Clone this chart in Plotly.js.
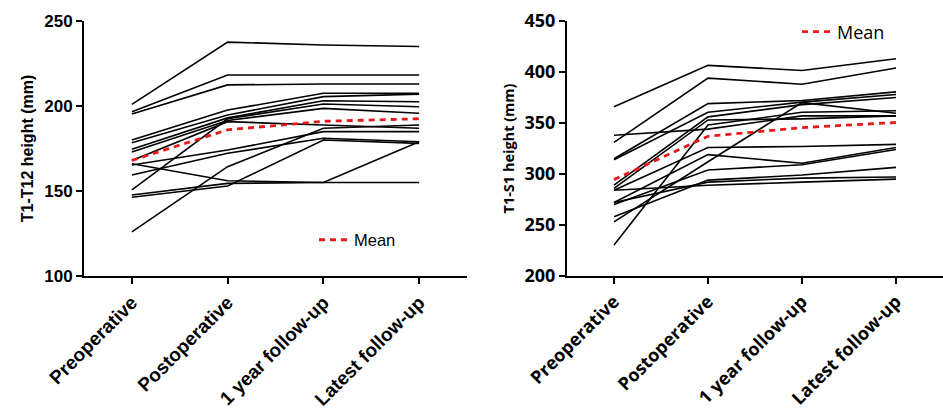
<!DOCTYPE html>
<html>
<head>
<meta charset="utf-8">
<script src="https://cdn.plot.ly/plotly-3.0.1.min.js"></script>
<style>html,body{margin:0;padding:0;background:#fff;}#chart{width:943px;height:410px;}</style>
</head>
<body>
<div id="chart"></div>
<script>
// ---- data ----
const timepoints = ["Preoperative", "Postoperative", "1 year follow-up", "Latest follow-up"];

// T1-T12 height (mm), one array per patient
const t12_p1  = [201, 237.6, 235.9, 235];
const t12_p2  = [196.6, 218.2, 218.2, 218.2];
const t12_p3  = [195.3, 212.4, 212.9, 212.9];
const t12_p4  = [180, 197.6, 207.5, 207.5];
const t12_p5  = [178.4, 194.7, 205.5, 207];
const t12_p6  = [174.5, 193, 203.1, 202.5];
const t12_p7  = [150.6, 192.5, 201.2, 199.6];
const t12_p8  = [173, 191.5, 198.6, 195.7];
const t12_p9  = [168, 190.8, 188.8, 186.9];
const t12_p10 = [165.3, 174.1, 184.9, 184.9];
const t12_p11 = [159.4, 172.2, 181, 179];
const t12_p12 = [126, 164.3, 186.9, 188.8];
const t12_p13 = [166, 156, 155, 179];
const t12_p14 = [147.6, 154.5, 155, 155];
const t12_p15 = [146.3, 152.9, 180, 178];
const t12_mean = [168, 186, 191, 192.5];

// T1-S1 height (mm), one array per patient
const s1_p1  = [366, 406.5, 401.5, 413];
const s1_p2  = [331, 394, 388, 404];
const s1_p3  = [338, 344, 357, 357];
const s1_p4  = [315, 369, 372, 380.5];
const s1_p5  = [314, 360.5, 370.5, 378];
const s1_p6  = [289, 356, 368, 375];
const s1_p7  = [230.5, 348, 360.5, 362];
const s1_p8  = [253, 312, 370, 359.5];
const s1_p9  = [286, 353, 354, 357];
const s1_p10 = [284, 326, 327, 329];
const s1_p11 = [272, 319, 310.5, 326];
const s1_p12 = [270, 304, 309, 324];
const s1_p13 = [258, 294, 299, 306.5];
const s1_p14 = [272, 292, 296, 297];
const s1_p15 = [284, 289, 292, 295];
const s1_mean = [294.5, 337, 345.5, 350.5];

const t12Patients = [t12_p1,t12_p2,t12_p3,t12_p4,t12_p5,t12_p6,t12_p7,t12_p8,t12_p9,t12_p10,t12_p11,t12_p12,t12_p13,t12_p14,t12_p15];
const s1Patients = [s1_p1,s1_p2,s1_p3,s1_p4,s1_p5,s1_p6,s1_p7,s1_p8,s1_p9,s1_p10,s1_p11,s1_p12,s1_p13,s1_p14,s1_p15];

// ---- traces ----
const traces = [];
t12Patients.forEach(v => traces.push({
  x: timepoints, y: v, xaxis: 'x', yaxis: 'y', type: 'scatter', mode: 'lines',
  line: {color: '#000', width: 1.6}, showlegend: false, hoverinfo: 'skip'
}));
traces.push({
  x: timepoints, y: t12_mean, xaxis: 'x', yaxis: 'y', type: 'scatter', mode: 'lines',
  name: 'Mean', line: {color: '#e8191c', width: 2.8, dash: '6px,5px'}, legend: 'legend'
});
s1Patients.forEach(v => traces.push({
  x: timepoints, y: v, xaxis: 'x2', yaxis: 'y2', type: 'scatter', mode: 'lines',
  line: {color: '#000', width: 1.6}, showlegend: false, hoverinfo: 'skip'
}));
traces.push({
  x: timepoints, y: s1_mean, xaxis: 'x2', yaxis: 'y2', type: 'scatter', mode: 'lines',
  name: 'Mean', line: {color: '#e8191c', width: 2.8, dash: '6px,5px'}, legend: 'legend2'
});

const W = 943;
const leftFont = 'Liberation Sans, Arial, sans-serif';
const rightFont = 'Open Sans, Noto Sans, sans-serif';

function xAxis(dom, anchor, fam, fs) {
  return {
    domain: dom, anchor: anchor, type: 'category', range: [-0.5, 3.5],
    showgrid: false, zeroline: false, showline: true, linecolor: '#000', linewidth: 2,
    ticks: 'outside', ticklen: 6, tickwidth: 2, tickcolor: '#000', tickangle: -45,
    tickfont: {family: fam, size: fs, color: '#000', weight: 'bold'}, automargin: false
  };
}
function yAxis(anchor, rng, dt, title, fam, fs, tfs, standoff) {
  return {
    domain: [0, 1], anchor: anchor, range: rng, dtick: dt,
    showgrid: false, zeroline: false, showline: true, linecolor: '#000', linewidth: 2,
    ticks: 'outside', ticklen: 6, tickwidth: 2, tickcolor: '#000',
    tickfont: {family: fam, size: fs, color: '#000', weight: 'bold'},
    title: {text: title, font: {family: fam, size: tfs, color: '#000', weight: 'bold'}, standoff: standoff},
    automargin: false
  };
}

const layout = {
  width: 943, height: 410,
  margin: {l: 0, r: 0, t: 21, b: 134},
  paper_bgcolor: '#fff', plot_bgcolor: '#fff',
  xaxis: xAxis([84 / W, 467 / W], 'y', leftFont, 19),
  yaxis: yAxis('x', [100, 250], 50, 'T1-T12 height (mm)', leftFont, 17, 16, 7),
  xaxis2: xAxis([567 / W, 1], 'y2', rightFont, 18),
  yaxis2: yAxis('x2', [200, 450], 50, 'T1-S1 height (mm)', rightFont, 18, 14.5, 6),
  legend: {
    x: 314 / W, y: (276 - 240) / 255, xanchor: 'left', yanchor: 'middle',
    bgcolor: 'rgba(0,0,0,0)', font: {family: leftFont, size: 16.5, color: '#000'}
  },
  legend2: {
    x: 797 / W, y: (276 - 32) / 255, xanchor: 'left', yanchor: 'middle',
    bgcolor: 'rgba(0,0,0,0)', font: {family: rightFont, size: 18, color: '#000'}
  },
  showlegend: true
};

Plotly.newPlot('chart', traces, layout, {displayModeBar: false, staticPlot: true});
</script>
</body>
</html>
